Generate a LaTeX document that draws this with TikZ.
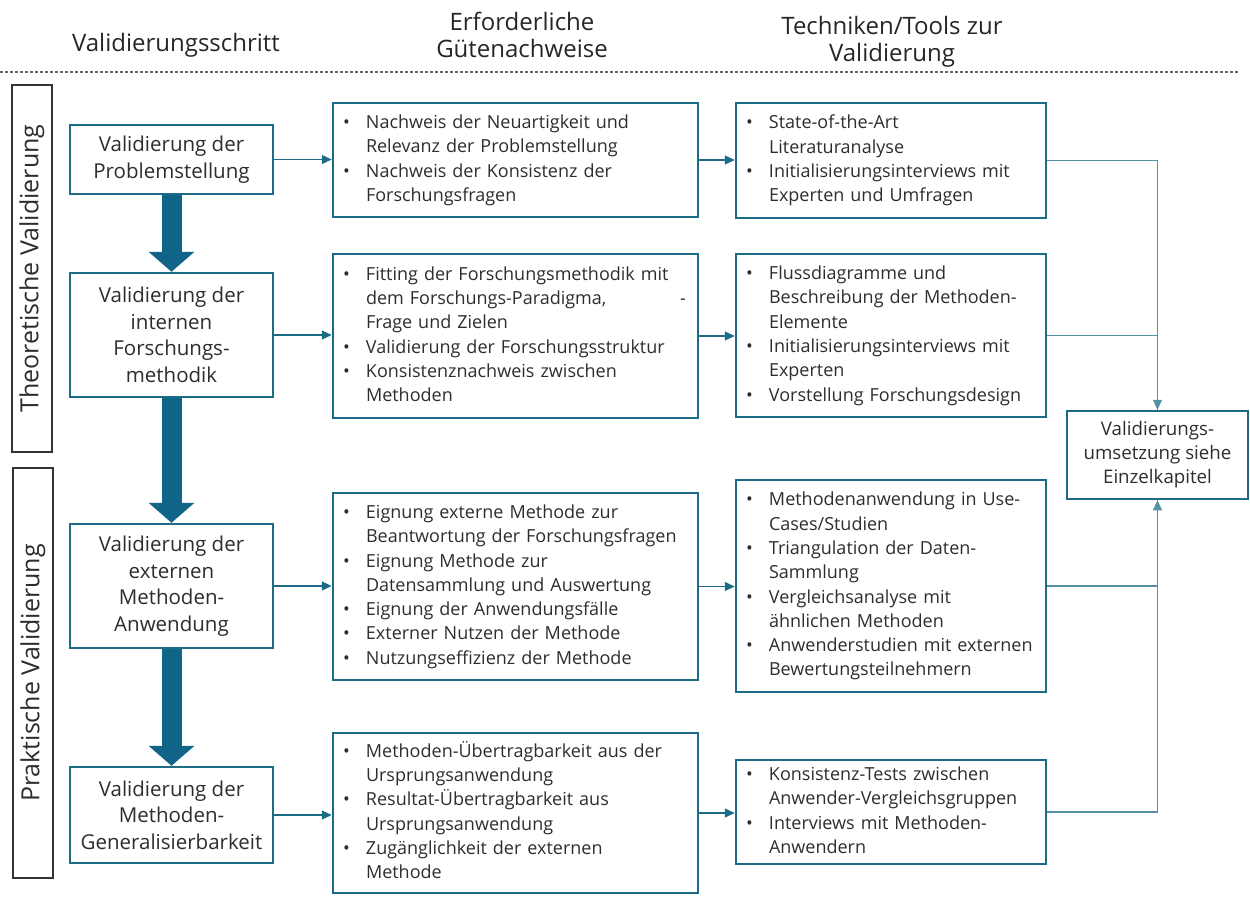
\documentclass[tikz,border=0pt]{standalone}
\usepackage{fontspec}
\setmainfont{Open Sans}
\usetikzlibrary{arrows.meta,positioning}
\definecolor{tealbox}{RGB}{28,108,135}
\definecolor{arrowblue}{RGB}{16,100,135}
\definecolor{txtgray}{RGB}{45,45,45}
\newenvironment{blist}{\begin{tabular}{@{}p{23pt}@{}l@{}}}{\end{tabular}}
\newcommand{\bul}{\textbullet}

\begin{document}
\begin{tikzpicture}[x=1pt,y=-1pt,
  stepbox/.style={draw=tealbox,line width=2.5pt,minimum width=203pt,align=center,inner sep=0pt,text=txtgray,font=\fontsize{20.5pt}{26.5pt}\selectfont},
  proofbox/.style={draw=tealbox,line width=2.5pt,text width=345pt,inner xsep=10pt,inner ysep=0pt,align=left,text=txtgray,font=\fontsize{18pt}{24.3pt}\selectfont},
  toolbox/.style={proofbox,text width=290pt},
  sidebox/.style={draw=black!80,line width=1.5pt,rotate=90,minimum height=40pt,inner sep=0pt,text=txtgray,font=\fontsize{25pt}{28pt}\selectfont},
  head/.style={align=center,text=black!85,font=\fontsize{24pt}{27pt}\selectfont},
  flow/.style={draw=tealbox,line width=1.3pt,-{Triangle[length=10pt,width=9pt]}},
  feedline/.style={draw=tealbox!75,line width=1.2pt},
  bigarrow/.style={draw=arrowblue,line width=20pt,-{Triangle[length=20pt,width=46pt,line width=0pt]}}]
\useasboundingbox (0,0) rectangle (1250,897);

% headers
\node[head] (h1) at (176,45) {Validierungsschritt};
\node[head] (h2) at (522,35) {Erforderliche\\Gütenachweise};
\node[head] (h3) at (892,42) {Techniken/Tools zur\\Validierung};
\draw[black!60,line width=1.2pt,dash pattern=on 3pt off 2pt] (0,72) -- (1240,72);

% side labels
\node[sidebox,minimum width=367pt] (theo) at (32,268.5) {Theoretische Validierung};
\node[sidebox,minimum width=410pt] (prak) at (33,673) {Praktische Validierung};

% validation steps
\node[stepbox,minimum height=69pt] (L1) at (171.5,159.5) {Validierung der\\Problemstellung};
\node[stepbox,minimum height=124pt] (L2) at (171.5,335) {Validierung der\\internen\\Forschungs-\\methodik};
\node[stepbox,minimum height=124pt] (L3) at (171.5,586) {Validierung der\\externen\\Methoden-\\Anwendung};
\node[stepbox,minimum height=96pt] (L4) at (171.5,815) {Validierung der\\Methoden-\\Generalisierbarkeit};

% required proofs
\node[proofbox,minimum height=114pt] (M1) at (515.5,160) {\begin{blist}
\bul & Nachweis der Neuartigkeit und\\
 & Relevanz der Problemstellung\\
\bul & Nachweis der Konsistenz der\\
 & Forschungsfragen
\end{blist}};
\node[proofbox,minimum height=164pt] (M2) at (515.5,336) {\begin{blist}
\bul & Fitting der Forschungsmethodik mit\\
 & \makebox[320pt][l]{dem Forschungs-Paradigma,\hfill-}\\
 & Frage und Zielen\\
\bul & Validierung der Forschungsstruktur\\
\bul & Konsistenznachweis zwischen\\
 & Methoden
\end{blist}};
\node[proofbox,minimum height=187pt] (M3) at (515.5,586.5) {\begin{blist}
\bul & Eignung externe Methode zur\\
 & Beantwortung der Forschungsfragen\\
\bul & Eignung Methode zur\\
 & Datensammlung und Auswertung\\
\bul & Eignung der Anwendungsfälle\\
\bul & Externer Nutzen der Methode\\
\bul & Nutzungseffizienz der Methode
\end{blist}};
\node[proofbox,minimum height=160pt] (M4) at (515.5,813) {\begin{blist}
\bul & Methoden-Übertragbarkeit aus der\\
 & Ursprungsanwendung\\
\bul & Resultat-Übertragbarkeit aus\\
 & Ursprungsanwendung\\
\bul & Zugänglichkeit der externen\\
 & Methode
\end{blist}};

% techniques and tools
\node[toolbox,minimum height=115pt] (R1) at (891,160.5) {\begin{blist}
\bul & State-of-the-Art\\
 & Literaturanalyse\\
\bul & Initialisierungsinterviews mit\\
 & Experten und Umfragen
\end{blist}};
\node[toolbox,minimum height=163pt] (R2) at (891,335.5) {\begin{blist}
\bul & Flussdiagramme und\\
 & Beschreibung der Methoden-\\
 & Elemente\\
\bul & Initialisierungsinterviews mit\\
 & Experten\\
\bul & Vorstellung Forschungsdesign
\end{blist}};
\node[toolbox,minimum height=212pt] (R3) at (891,586) {\begin{blist}
\bul & Methodenanwendung in Use-\\
 & Cases/Studien\\
\bul & Triangulation der Daten-\\
 & Sammlung\\
\bul & Vergleichsanalyse mit\\
 & ähnlichen Methoden\\
\bul & Anwenderstudien mit externen\\
 & Bewertungsteilnehmern
\end{blist}};
\node[toolbox,minimum height=104pt] (R4) at (891,812) {\begin{blist}
\bul & Konsistenz-Tests zwischen\\
 & Anwender-Vergleichsgruppen\\
\bul & Interviews mit Methoden-\\
 & Anwendern
\end{blist}};

% result
\node[stepbox,minimum width=181pt,minimum height=88pt,font=\fontsize{18.7pt}{24pt}\selectfont] (F) at (1157.5,455) {Validierungs-\\umsetzung siehe\\Einzelkapitel};

% big arrows
\draw[bigarrow] (L1.south) -- (L2.north);
\draw[bigarrow] (L2.south) -- (L3.north);
\draw[bigarrow] (L3.south) -- (L4.north);

% connectors
\foreach \i in {1,...,4}{
  \draw[flow] (L\i.east) -- (L\i.east -| M\i.west);
  \draw[flow] (M\i.east) -- (M\i.east -| R\i.west);
}
\draw[feedline,-{Triangle[length=10pt,width=9pt]}] (R1.east) -| (F.north);
\draw[feedline] (R2.east) -| (F.north);
\draw[feedline] (R3.east) -| (F.south);
\draw[feedline,-{Triangle[length=10pt,width=9pt]}] (R4.east) -| (F.south);
\end{tikzpicture}
\end{document}
